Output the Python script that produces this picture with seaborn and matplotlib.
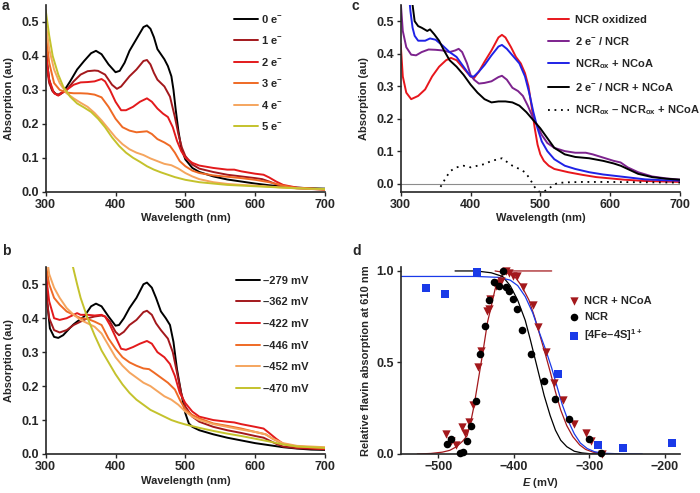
import matplotlib
matplotlib.use('Agg')
import matplotlib.pyplot as plt
import seaborn as sns
import pandas as pd
from matplotlib.ticker import FormatStrFormatter, MultipleLocator

# ---------------- Panel a: electron titration ----------------
a0_wl = [300, 302, 305, 309, 314, 319, 325, 335, 345, 355, 365, 372, 380, 390, 400, 406, 413, 420, 430, 440, 445, 450, 455, 460, 465, 470, 475, 480, 483, 486, 490, 494, 500, 510, 520, 540, 560, 580, 600, 620, 640, 660, 680, 700]
a0_ab = [0.44, 0.38, 0.33, 0.30, 0.288, 0.285, 0.293, 0.325, 0.36, 0.385, 0.408, 0.415, 0.405, 0.375, 0.352, 0.356, 0.38, 0.415, 0.45, 0.485, 0.49, 0.48, 0.455, 0.42, 0.405, 0.39, 0.37, 0.34, 0.30, 0.245, 0.18, 0.13, 0.095, 0.07, 0.058, 0.045, 0.036, 0.03, 0.024, 0.019, 0.015, 0.012, 0.01, 0.009]
a1_wl = [300, 302, 305, 310, 317, 330, 340, 350, 360, 370, 375, 385, 395, 402, 408, 420, 430, 440, 445, 450, 455, 460, 470, 478, 485, 490, 495, 500, 510, 520, 540, 560, 580, 600, 610, 620, 630, 640, 660, 700]
a1_ab = [0.42, 0.36, 0.32, 0.295, 0.285, 0.30, 0.325, 0.345, 0.355, 0.357, 0.356, 0.345, 0.315, 0.303, 0.31, 0.34, 0.36, 0.385, 0.388, 0.375, 0.35, 0.33, 0.31, 0.28, 0.22, 0.17, 0.13, 0.105, 0.08, 0.068, 0.058, 0.05, 0.045, 0.04, 0.037, 0.03, 0.022, 0.015, 0.01, 0.006]
a2_wl = [300, 302, 305, 312, 318, 330, 340, 350, 360, 370, 380, 385, 392, 400, 408, 415, 425, 435, 445, 452, 460, 468, 475, 482, 488, 494, 500, 510, 520, 540, 560, 570, 580, 600, 612, 620, 630, 640, 660, 700]
a2_ab = [0.45, 0.38, 0.33, 0.29, 0.283, 0.30, 0.315, 0.322, 0.323, 0.325, 0.332, 0.325, 0.30, 0.265, 0.24, 0.24, 0.25, 0.265, 0.275, 0.265, 0.245, 0.23, 0.22, 0.19, 0.15, 0.12, 0.10, 0.085, 0.077, 0.07, 0.065, 0.065, 0.06, 0.053, 0.05, 0.042, 0.03, 0.02, 0.012, 0.007]
a3_wl = [300, 305, 312, 320, 330, 340, 350, 360, 370, 380, 390, 400, 410, 420, 430, 440, 445, 452, 460, 470, 478, 485, 492, 500, 510, 520, 540, 560, 580, 600, 620, 640, 660, 700]
a3_ab = [0.47, 0.38, 0.32, 0.30, 0.292, 0.29, 0.29, 0.289, 0.286, 0.278, 0.25, 0.215, 0.19, 0.18, 0.175, 0.177, 0.178, 0.17, 0.155, 0.145, 0.135, 0.115, 0.09, 0.075, 0.062, 0.055, 0.048, 0.044, 0.04, 0.035, 0.028, 0.018, 0.011, 0.006]
a4_wl = [300, 305, 312, 320, 330, 340, 350, 360, 370, 380, 390, 400, 410, 420, 430, 440, 450, 460, 470, 480, 490, 500, 510, 520, 540, 560, 580, 600, 620, 640, 660, 700]
a4_ab = [0.50, 0.42, 0.36, 0.32, 0.29, 0.275, 0.262, 0.25, 0.232, 0.21, 0.185, 0.16, 0.14, 0.125, 0.115, 0.108, 0.098, 0.09, 0.082, 0.078, 0.068, 0.055, 0.045, 0.037, 0.028, 0.023, 0.02, 0.018, 0.015, 0.012, 0.01, 0.007]
a5_wl = [300, 305, 310, 318, 325, 335, 345, 355, 365, 375, 385, 395, 405, 415, 425, 435, 445, 455, 465, 475, 485, 500, 520, 540, 560, 580, 600, 620, 640, 660, 700]
a5_ab = [0.535, 0.46, 0.40, 0.345, 0.31, 0.28, 0.26, 0.248, 0.235, 0.215, 0.19, 0.16, 0.135, 0.115, 0.10, 0.088, 0.075, 0.065, 0.057, 0.05, 0.043, 0.035, 0.028, 0.024, 0.02, 0.018, 0.016, 0.014, 0.012, 0.01, 0.008]
a_labels = ['0 e$^{-}$', '1 e$^{-}$', '2 e$^{-}$', '3 e$^{-}$', '4 e$^{-}$', '5 e$^{-}$']

# ---------------- Panel b: potentiometric titration ----------------
b0_wl = [300, 302, 306, 312, 318, 325, 335, 340, 345, 355, 365, 372, 380, 390, 400, 405, 412, 420, 430, 440, 445, 452, 458, 465, 472, 478, 483, 488, 494, 500, 505, 510, 520, 540, 560, 580, 600, 620, 640, 660, 680, 700]
b0_ab = [0.56, 0.45, 0.37, 0.345, 0.342, 0.35, 0.372, 0.382, 0.39, 0.405, 0.435, 0.443, 0.435, 0.405, 0.378, 0.38, 0.40, 0.43, 0.46, 0.50, 0.505, 0.49, 0.46, 0.42, 0.40, 0.38, 0.33, 0.25, 0.18, 0.12, 0.09, 0.08, 0.07, 0.058, 0.048, 0.04, 0.032, 0.026, 0.02, 0.016, 0.013, 0.012]
b1_wl = [300, 302, 305, 312, 320, 330, 340, 350, 360, 370, 380, 385, 392, 400, 405, 412, 420, 430, 440, 445, 452, 458, 465, 475, 482, 488, 494, 500, 510, 520, 540, 560, 580, 600, 612, 620, 630, 640, 660, 700]
b1_ab = [0.52, 0.45, 0.40, 0.365, 0.358, 0.365, 0.38, 0.39, 0.40, 0.405, 0.408, 0.405, 0.39, 0.36, 0.35, 0.36, 0.38, 0.395, 0.418, 0.422, 0.41, 0.385, 0.365, 0.34, 0.30, 0.24, 0.18, 0.14, 0.11, 0.095, 0.08, 0.07, 0.062, 0.053, 0.048, 0.04, 0.03, 0.022, 0.017, 0.014]
b2_wl = [300, 302, 305, 312, 320, 330, 340, 345, 350, 360, 370, 380, 385, 392, 400, 408, 415, 425, 435, 445, 452, 460, 470, 478, 485, 492, 500, 510, 520, 540, 560, 570, 580, 600, 612, 620, 630, 640, 660, 700]
b2_ab = [0.56, 0.50, 0.45, 0.40, 0.395, 0.40, 0.41, 0.415, 0.41, 0.41, 0.408, 0.41, 0.405, 0.38, 0.345, 0.31, 0.307, 0.315, 0.325, 0.333, 0.325, 0.30, 0.285, 0.265, 0.23, 0.18, 0.15, 0.125, 0.11, 0.10, 0.095, 0.093, 0.088, 0.08, 0.075, 0.062, 0.045, 0.03, 0.02, 0.015]
b3_wl = [300, 305, 312, 320, 330, 340, 350, 360, 370, 380, 390, 400, 410, 420, 430, 440, 448, 455, 465, 475, 485, 492, 500, 510, 520, 540, 560, 580, 600, 615, 625, 640, 660, 700]
b3_ab = [0.56, 0.50, 0.46, 0.44, 0.42, 0.41, 0.40, 0.398, 0.39, 0.38, 0.34, 0.31, 0.285, 0.27, 0.26, 0.252, 0.25, 0.24, 0.225, 0.21, 0.19, 0.16, 0.13, 0.115, 0.105, 0.09, 0.083, 0.075, 0.065, 0.058, 0.045, 0.03, 0.022, 0.018]
b4_wl = [303, 305, 312, 320, 330, 340, 350, 360, 370, 380, 390, 400, 410, 420, 430, 440, 450, 460, 470, 480, 490, 500, 510, 520, 540, 560, 580, 600, 615, 625, 640, 660, 700]
b4_ab = [0.56, 0.53, 0.49, 0.46, 0.43, 0.41, 0.395, 0.385, 0.375, 0.355, 0.32, 0.285, 0.26, 0.24, 0.225, 0.21, 0.20, 0.185, 0.17, 0.16, 0.145, 0.125, 0.11, 0.10, 0.088, 0.08, 0.072, 0.065, 0.058, 0.045, 0.032, 0.024, 0.02]
b5_wl = [338, 345, 350, 360, 370, 380, 390, 400, 410, 420, 430, 440, 450, 460, 470, 480, 490, 500, 510, 520, 540, 560, 580, 600, 620, 640, 660, 700]
b5_ab = [0.56, 0.50, 0.46, 0.40, 0.35, 0.305, 0.27, 0.235, 0.205, 0.18, 0.16, 0.145, 0.13, 0.12, 0.11, 0.10, 0.093, 0.087, 0.082, 0.077, 0.068, 0.06, 0.053, 0.045, 0.037, 0.028, 0.022, 0.018]
b_labels = ['\u2013279 mV', '\u2013362 mV', '\u2013422 mV', '\u2013446 mV', '\u2013452 mV', '\u2013470 mV']

# ---------------- Panel c: NCoA binding ----------------
c_red_wl = [300, 303, 308, 315, 325, 335, 345, 355, 365, 372, 380, 390, 400, 405, 412, 420, 430, 440, 445, 450, 458, 465, 472, 478, 483, 488, 492, 496, 500, 505, 512, 520, 540, 560, 580, 600, 620, 650, 700]
c_red_ab = [0.43, 0.33, 0.28, 0.26, 0.27, 0.29, 0.33, 0.36, 0.38, 0.387, 0.38, 0.355, 0.33, 0.325, 0.345, 0.375, 0.41, 0.45, 0.458, 0.45, 0.42, 0.39, 0.37, 0.34, 0.30, 0.23, 0.17, 0.12, 0.09, 0.07, 0.055, 0.045, 0.035, 0.027, 0.02, 0.016, 0.012, 0.008, 0.005]
c_pur_wl = [300, 303, 308, 315, 322, 330, 340, 350, 360, 370, 378, 383, 388, 395, 400, 405, 412, 420, 430, 440, 445, 452, 460, 468, 475, 482, 488, 495, 502, 510, 520, 535, 550, 565, 575, 590, 605, 615, 625, 640, 660, 680, 700]
c_pur_ab = [0.56, 0.47, 0.42, 0.397, 0.395, 0.405, 0.413, 0.412, 0.41, 0.405, 0.41, 0.415, 0.405, 0.37, 0.335, 0.32, 0.308, 0.31, 0.315, 0.328, 0.332, 0.32, 0.295, 0.285, 0.27, 0.24, 0.21, 0.18, 0.15, 0.125, 0.11, 0.10, 0.095, 0.095, 0.09, 0.08, 0.07, 0.065, 0.05, 0.035, 0.022, 0.016, 0.012]
c_blu_wl = [311, 314, 317, 320, 325, 335, 342, 350, 360, 370, 380, 390, 400, 405, 412, 420, 430, 440, 445, 452, 460, 470, 478, 484, 490, 496, 502, 510, 520, 535, 550, 570, 590, 610, 630, 650, 680, 700]
c_blu_ab = [0.60, 0.53, 0.48, 0.455, 0.44, 0.44, 0.447, 0.443, 0.425, 0.405, 0.39, 0.36, 0.33, 0.33, 0.345, 0.365, 0.395, 0.422, 0.427, 0.415, 0.395, 0.37, 0.33, 0.28, 0.22, 0.17, 0.13, 0.10, 0.075, 0.055, 0.045, 0.035, 0.028, 0.023, 0.018, 0.013, 0.01, 0.009]
c_blk_wl = [314, 317, 320, 325, 330, 338, 342, 348, 355, 362, 370, 380, 390, 400, 410, 420, 430, 440, 450, 460, 470, 480, 490, 500, 510, 520, 535, 550, 570, 590, 605, 615, 625, 640, 660, 680, 700]
c_blk_ab = [0.60, 0.55, 0.50, 0.485, 0.48, 0.47, 0.475, 0.46, 0.44, 0.41, 0.38, 0.36, 0.335, 0.305, 0.28, 0.26, 0.25, 0.253, 0.253, 0.25, 0.24, 0.22, 0.195, 0.17, 0.14, 0.11, 0.09, 0.082, 0.078, 0.07, 0.062, 0.055, 0.045, 0.03, 0.02, 0.015, 0.012]
c_dif_wl = [357, 360, 365, 372, 380, 390, 400, 410, 420, 430, 440, 445, 450, 460, 470, 478, 485, 490, 495, 500, 510, 518, 525, 540, 560, 600, 650, 700]
c_dif_ab = [-0.01, 0.0, 0.02, 0.04, 0.05, 0.055, 0.05, 0.055, 0.06, 0.07, 0.075, 0.078, 0.07, 0.055, 0.045, 0.035, 0.015, -0.005, -0.02, -0.027, -0.02, -0.005, 0.002, 0.004, 0.005, 0.005, 0.004, 0.003]
c_labels = ['NCR oxidized', '2 e$^{-}$ / NCR', 'NCR$_{ox}$ + NCoA', '2 e$^{-}$ / NCR + NCoA',
            'NCR$_{ox}$ \u2013 NCR$_{ox}$ + NCoA']

# ---------------- Panel d: redox titration ----------------
d_tri_E = [-490, -483, -477, -469, -465, -460, -454, -448, -443, -436, -433, -432, -424, -420, -417, -410, -407, -401, -396, -388, -375, -368, -358, -347, -335, -321, -304, -298, -283]
d_tri_v = [0.11, 0.07, 0.047, 0.15, 0.113, 0.175, 0.27, 0.475, 0.565, 0.78, 0.79, 0.845, 0.918, 0.935, 0.945, 1.0, 0.99, 0.975, 0.975, 0.91, 0.815, 0.695, 0.557, 0.39, 0.294, 0.166, 0.114, 0.071, 0.0]
d_cir_E = [-489, -484, -471, -468, -462, -457, -450, -445, -438, -433, -426, -420, -415, -411, -407, -401, -396, -389, -377, -360, -345, -327, -300, -285]
d_cir_v = [0.055, 0.082, 0.005, 0.013, 0.071, 0.155, 0.291, 0.544, 0.702, 0.844, 0.94, 0.92, 0.998, 0.91, 0.888, 0.847, 0.79, 0.676, 0.549, 0.40, 0.30, 0.192, 0.08, 0.004]
d_sq_E = [-516, -491, -449, -342, -288, -255, -190]
d_sq_v = [0.909, 0.873, 0.996, 0.435, 0.047, 0.031, 0.058]
d_labels = ['NCR + NCoA', 'NCR', '[4Fe\u20134S]$^{1+}$']

fit_rise_E = [-528, -510, -495, -485, -476, -468, -462, -457, -453, -449, -445, -441, -438, -435, -431, -425, -418, -412, -405, -380, -350]
fit_rise_v = [0.0, 0.003, 0.01, 0.02, 0.04, 0.07, 0.10, 0.18, 0.26, 0.36, 0.46, 0.56, 0.64, 0.72, 0.79, 0.90, 0.965, 0.99, 1.0, 1.0, 1.0]
fit_fall_E = [-425, -410, -400, -390, -380, -372, -365, -358, -352, -345, -338, -330, -322, -313, -305, -295, -285, -275, -260]
fit_fall_v = [1.0, 0.99, 0.975, 0.92, 0.84, 0.74, 0.64, 0.54, 0.45, 0.34, 0.24, 0.155, 0.095, 0.05, 0.025, 0.01, 0.004, 0.001, 0.0]
fit_blk_E = [-478, -450, -430, -415, -405, -395, -385, -378, -372, -366, -360, -352, -345, -338, -330, -320, -310, -300, -290]
fit_blk_v = [1.0, 1.0, 0.99, 0.97, 0.92, 0.84, 0.73, 0.62, 0.52, 0.42, 0.32, 0.21, 0.13, 0.075, 0.04, 0.015, 0.006, 0.002, 0.0]
fit_blu_E = [-550, -450, -420, -405, -395, -385, -375, -366, -358, -350, -343, -336, -328, -320, -312, -303, -293, -280, -260, -230]
fit_blu_v = [0.97, 0.97, 0.965, 0.95, 0.92, 0.86, 0.77, 0.66, 0.57, 0.47, 0.37, 0.27, 0.18, 0.11, 0.06, 0.03, 0.012, 0.004, 0.001, 0.0]

# ---------------- style ----------------
sns.set_theme(style='ticks')
FS = 8
TFS = 9
plt.rcParams.update({
    'font.family': ['Liberation Sans', 'DejaVu Sans'],
    'font.weight': 'bold',
    'axes.labelweight': 'bold',
    'font.size': FS,
    'mathtext.fontset': 'custom',
    'mathtext.rm': 'Liberation Sans:bold',
    'mathtext.bf': 'Liberation Sans:bold',
    'mathtext.it': 'Liberation Sans:italic:bold',
    'mathtext.default': 'rm',
    'axes.linewidth': 1.2,
    'xtick.major.width': 1.0,
    'ytick.major.width': 1.0,
    'xtick.major.size': 3,
    'ytick.major.size': 3,
    'xtick.major.pad': 2,
    'ytick.major.pad': 2,
    'xtick.labelsize': TFS,
    'ytick.labelsize': TFS,
    'axes.labelsize': FS,
    'legend.fontsize': FS,
})

W, H = 700, 493
fig = plt.figure(figsize=(7.0, 4.93), dpi=100)

def add_ax(l, t, r, b):
    return fig.add_axes([l / W, 1 - b / H, (r - l) / W, (b - t) / H])

ax_a = add_ax(45.7, 5.0, 325.0, 191.7)
ax_b = add_ax(45.7, 267.3, 325.0, 454.0)
ax_c = add_ax(400.7, 5.0, 680.0, 191.7)
ax_d = add_ax(400.7, 267.3, 680.0, 454.0)

LW = 1.4
a_colors = ['#000000', '#a3181c', '#e31a1c', '#ef6a25', '#f5a55e', '#c4c22c']

def draw(ax, x, y, color, label, **kw):
    sns.lineplot(x=x, y=y, ax=ax, color=color, lw=kw.pop('lw', LW), label=label,
                 estimator=None, sort=False, **kw)

a_sets = [(a0_wl, a0_ab), (a1_wl, a1_ab), (a2_wl, a2_ab), (a3_wl, a3_ab), (a4_wl, a4_ab), (a5_wl, a5_ab)]
for (x, y), c, lab in zip(a_sets, a_colors, a_labels):
    draw(ax_a, x, y, c, lab)

b_sets = [(b0_wl, b0_ab), (b1_wl, b1_ab), (b2_wl, b2_ab), (b3_wl, b3_ab), (b4_wl, b4_ab), (b5_wl, b5_ab)]
for (x, y), c, lab in zip(b_sets, a_colors, b_labels):
    draw(ax_b, x, y, c, lab)

ax_c.axhline(0, color='#8c8c8c', lw=0.8, zorder=1)
c_sets = [(c_red_wl, c_red_ab), (c_pur_wl, c_pur_ab), (c_blu_wl, c_blu_ab), (c_blk_wl, c_blk_ab)]
c_colors = ['#e8161c', '#7d238e', '#1f22e6', '#000000']
for (x, y), c, lab in zip(c_sets, c_colors, c_labels[:4]):
    draw(ax_c, x, y, c, lab)
draw(ax_c, c_dif_wl, c_dif_ab, '#000000', c_labels[4], lw=1.3, linestyle=(0, (1, 2.6)))

for ax in (ax_a, ax_b, ax_c):
    ax.set_xlim(300, 700)
    ax.xaxis.set_major_locator(MultipleLocator(100))
    ax.yaxis.set_major_locator(MultipleLocator(0.1))
    ax.yaxis.set_major_formatter(FormatStrFormatter('%.1f'))
    ax.set_xlabel('Wavelength (nm)', labelpad=2)
    ax.set_ylabel('Absorption (au)', labelpad=5)
ax_a.set_ylim(0, 0.55)
ax_b.set_ylim(0, 0.55)
ax_c.set_ylim(-0.025, 0.55)

# panel d
RED_D = '#a3181c'
BLUE_D = '#1a3ae8'
sns.lineplot(x=fit_rise_E, y=fit_rise_v, ax=ax_d, color=RED_D, lw=0.9, estimator=None, sort=False)
sns.lineplot(x=fit_fall_E, y=fit_fall_v, ax=ax_d, color=RED_D, lw=0.9, estimator=None, sort=False)
sns.lineplot(x=fit_blk_E, y=fit_blk_v, ax=ax_d, color='#000000', lw=0.9, estimator=None, sort=False)
sns.lineplot(x=fit_blu_E, y=fit_blu_v, ax=ax_d, color=BLUE_D, lw=0.9, estimator=None, sort=False)
sns.scatterplot(x=d_tri_E, y=d_tri_v, ax=ax_d, marker='v', color=RED_D, s=36, linewidth=0,
                label=d_labels[0], clip_on=False, zorder=3)
sns.scatterplot(x=d_cir_E, y=d_cir_v, ax=ax_d, marker='o', color='#000000', s=30, linewidth=0,
                label=d_labels[1], clip_on=False, zorder=3)
sns.scatterplot(x=d_sq_E, y=d_sq_v, ax=ax_d, marker='s', color=BLUE_D, s=30, linewidth=0,
                label=d_labels[2], clip_on=False, zorder=3)
ax_d.set_xlim(-550, -180)
ax_d.set_ylim(0, 1.02)
ax_d.xaxis.set_major_locator(MultipleLocator(100))
ax_d.yaxis.set_major_locator(MultipleLocator(0.5))
ax_d.yaxis.set_major_formatter(FormatStrFormatter('%.1f'))
ax_d.set_xlabel('$\\mathit{E}$ (mV)', labelpad=2)
ax_d.set_ylabel('Relative flavin absorption at 610 nm', labelpad=4)

for ax in (ax_a, ax_b, ax_c, ax_d):
    sns.despine(ax=ax)

# legends
ax_a.legend(loc='upper left', bbox_to_anchor=(0.675, 0.958), frameon=False, borderpad=0,
            borderaxespad=0, handlelength=2.1, handletextpad=0.35, labelspacing=0.85)
ax_b.legend(loc='upper left', bbox_to_anchor=(0.682, 0.955), frameon=False, borderpad=0,
            borderaxespad=0, handlelength=2.1, handletextpad=0.35, labelspacing=1.05)
ax_c.legend(loc='upper left', bbox_to_anchor=(0.528, 0.948), frameon=False, borderpad=0,
            borderaxespad=0, handlelength=1.9, handletextpad=0.5, labelspacing=0.92)
ax_d.legend(loc='upper left', bbox_to_anchor=(0.60, 0.845), frameon=False, borderpad=0,
            borderaxespad=0, handlelength=1.0, handletextpad=0.4, labelspacing=0.5)

# panel letters
for ch, x, y in [('a', 2, 10), ('b', 2, 255), ('c', 352, 10), ('d', 352, 255)]:
    fig.text(x / W, 1 - y / H, ch, fontsize=10, fontweight='bold', ha='left', va='baseline')

fig.savefig('out.png', dpi=100)
